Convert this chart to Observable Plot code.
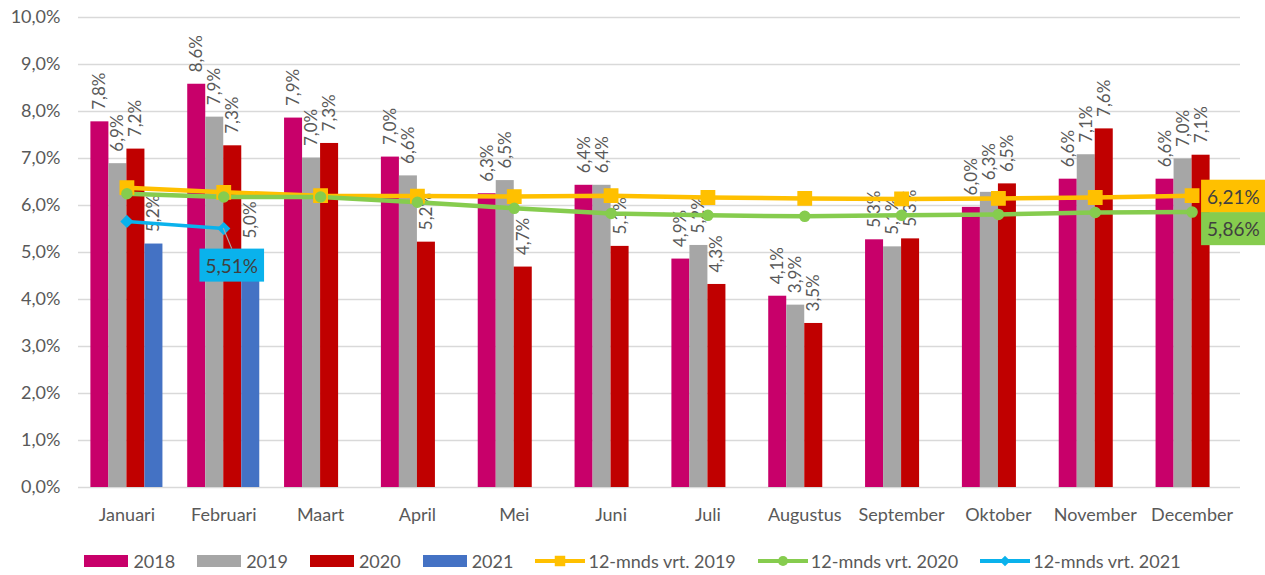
<!DOCTYPE html>
<html>
<head>
<meta charset="utf-8">
<script src="https://cdn.jsdelivr.net/npm/d3@7"></script>
<script src="https://cdn.jsdelivr.net/npm/@observablehq/plot@0.6"></script>
<style>
  html, body { margin: 0; padding: 0; background: #fff; }
  body { width: 1265px; height: 575px; overflow: hidden; font-family: Lato, "Open Sans", sans-serif; }
  #legend { display: flex; justify-content: center; align-items: center; height: 40px; margin-top: 6px;
    font-size: 18px; color: #595959; font-family: Lato, sans-serif; }
  .item { display: flex; align-items: center; margin: 0 11px; }
  .sw { width: 44px; height: 12px; margin-right: 5px; }
  .lsw { margin-right: 3px; }
</style>
</head>
<body>
<div id="chart"></div>
<div id="legend"></div>
<script>
// ---- data ----
const months = ["Januari", "Februari", "Maart", "April", "Mei", "Juni", "Juli", "Augustus", "September", "Oktober", "November", "December"];
const seriesNames = ["2018", "2019", "2020", "2021"];
const v2018 = [7.78, 8.58, 7.86, 7.03, 6.25, 6.43, 4.86, 4.07, 5.27, 5.96, 6.56, 6.56];
const v2019 = [6.89, 7.88, 7.01, 6.63, 6.53, 6.43, 5.15, 3.88, 5.12, 6.28, 7.08, 6.99];
const v2020 = [7.20, 7.27, 7.32, 5.22, 4.69, 5.13, 4.32, 3.49, 5.29, 6.46, 7.63, 7.07];
const v2021 = [5.18, 5.04];
const avg2019 = [6.38, 6.28, 6.21, 6.20, 6.19, 6.21, 6.17, 6.15, 6.14, 6.15, 6.17, 6.21];
const avg2020 = [6.25, 6.18, 6.18, 6.07, 5.94, 5.83, 5.79, 5.77, 5.79, 5.81, 5.85, 5.86];
const avg2021 = [5.66, 5.51];
const lineNames = ["12-mnds vrt. 2019", "12-mnds vrt. 2020", "12-mnds vrt. 2021"];
const yTicks = [0, 1, 2, 3, 4, 5, 6, 7, 8, 9, 10];

const barColors = ["#C8006A", "#A6A6A6", "#C00000", "#4472C4"];
const lineColors = ["#FFC000", "#86CC4E", "#0AB2EC"];
const lineSymbols = ["square", "circle", "diamond2"];

// ---- tables ----
const groupSpan = 0.744;              // fraction of a month slot used by the 4 bars
const barW = groupSpan / seriesNames.length;
const bars = [];
[v2018, v2019, v2020, v2021].forEach((arr, k) => arr.forEach((v, i) => {
  const x1 = i - groupSpan / 2 + k * barW;
  bars.push({i, k, series: seriesNames[k], value: v, x1, x2: x1 + barW, xc: x1 + barW / 2});
}));
const lines = [];
[avg2019, avg2020, avg2021].forEach((arr, k) => arr.forEach((v, i) => lines.push({i, k, name: lineNames[k], value: v})));

const pct1 = v => v.toFixed(1).replace(".", ",") + "%";
const pct2 = v => v.toFixed(2).replace(".", ",") + "%";

const lastOf = (arr, k) => [{i: arr.length - 1, value: arr[arr.length - 1], k}];

const plot = Plot.plot({
  width: 1265, height: 535,
  marginLeft: 78, marginRight: 25, marginTop: 17, marginBottom: 48,
  style: {fontFamily: "Lato, sans-serif", fontSize: "18px", color: "#595959", background: "white", overflow: "visible"},
  x: {type: "linear", domain: [-0.5, 11.5], ticks: months.map((_, i) => i), tickFormat: i => months[i], tickSize: 0, tickPadding: 21, label: null},
  y: {domain: [0, 10], ticks: yTicks, tickFormat: pct1, tickSize: 0, tickPadding: 18, label: null},
  marks: [
    Plot.ruleY(yTicks, {stroke: "#D9D9D9", strokeWidth: 1.5}),
    Plot.rectY(bars, {x1: "x1", x2: "x2", y: "value", fill: d => barColors[d.k]}),
    Plot.text(bars, {x: "xc", y: "value", text: d => pct1(d.value), rotate: -90, textAnchor: "start", lineAnchor: "middle", dy: -12, fill: "#595959", fontSize: 17}),
    ...[0, 1, 2].map(k => Plot.line(lines.filter(d => d.k === k), {x: "i", y: "value", stroke: lineColors[k], strokeWidth: k === 2 ? 3.5 : 4.5})),
    ...[0, 1, 2].map(k => Plot.dot(lines.filter(d => d.k === k), {x: "i", y: "value", fill: lineColors[k], stroke: lineColors[k], symbol: lineSymbols[k], r: [7.5, 5, 5][k]})),
    Plot.text(lastOf(avg2019, 0), {x: "i", y: "value", text: d => pct2(d.value), textAnchor: "start", dx: 15, dy: 2, fill: "#404040", fontSize: 19, ariaDescription: "lab0"}),
    Plot.text(lastOf(avg2020, 1), {x: "i", y: "value", text: d => pct2(d.value), textAnchor: "start", dx: 15, dy: 18, fill: "#404040", fontSize: 19, ariaDescription: "lab1"}),
    Plot.text(lastOf(avg2021, 2), {x: "i", y: "value", text: d => pct2(d.value), textAnchor: "middle", dx: 8, dy: 38, fill: "#404040", fontSize: 19, ariaDescription: "lab2"})
  ]
});
document.getElementById("chart").appendChild(plot);

// boxes behind the line value labels
const svgRect = plot.getBoundingClientRect();
const xs = plot.scale("x"), ys = plot.scale("y");
[0, 1, 2].forEach(k => {
  const g = plot.querySelector(`g[aria-description="lab${k}"]`);
  if (!g) return;
  const t = g.querySelector("text");
  const r = t.getBoundingClientRect();
  const bx = r.left - svgRect.left - 6, by = r.top - svgRect.top - 5, bw = r.width + 12, bh = r.height + 10;
  const bg = document.createElementNS("http://www.w3.org/2000/svg", "g");
  g.parentNode.insertBefore(bg, g);
  if (k === 2) {
    const d = lines.filter(d => d.k === 2).slice(-1)[0];
    d3.select(bg).append("line")
      .attr("x1", xs.apply(d.i)).attr("y1", ys.apply(d.value))
      .attr("x2", bx + bw / 2).attr("y2", by)
      .attr("stroke", "#A6A6A6").attr("stroke-width", 1.2);
  }
  d3.select(bg).append("rect").attr("x", bx).attr("y", by).attr("width", bw).attr("height", bh).attr("fill", lineColors[k]);
});

// legend
const legend = d3.select("#legend");
seriesNames.forEach((s, k) => {
  const it = legend.append("div").attr("class", "item");
  it.append("div").attr("class", "sw").style("background", barColors[k]);
  it.append("span").text(s);
});
lineNames.forEach((s, k) => {
  const it = legend.append("div").attr("class", "item");
  const sv = it.append("svg").attr("class", "lsw").attr("width", 50).attr("height", 16);
  sv.append("line").attr("x1", 0).attr("x2", 50).attr("y1", 8).attr("y2", 8).attr("stroke", lineColors[k]).attr("stroke-width", 4);
  const sym = d3.symbol().type([d3.symbolSquare, d3.symbolCircle, d3.symbolDiamond2][k]).size([110, 80, 70][k]);
  sv.append("path").attr("d", sym()).attr("transform", "translate(25,8)").attr("fill", lineColors[k]);
  it.append("span").text(s);
});
</script>
</body>
</html>
